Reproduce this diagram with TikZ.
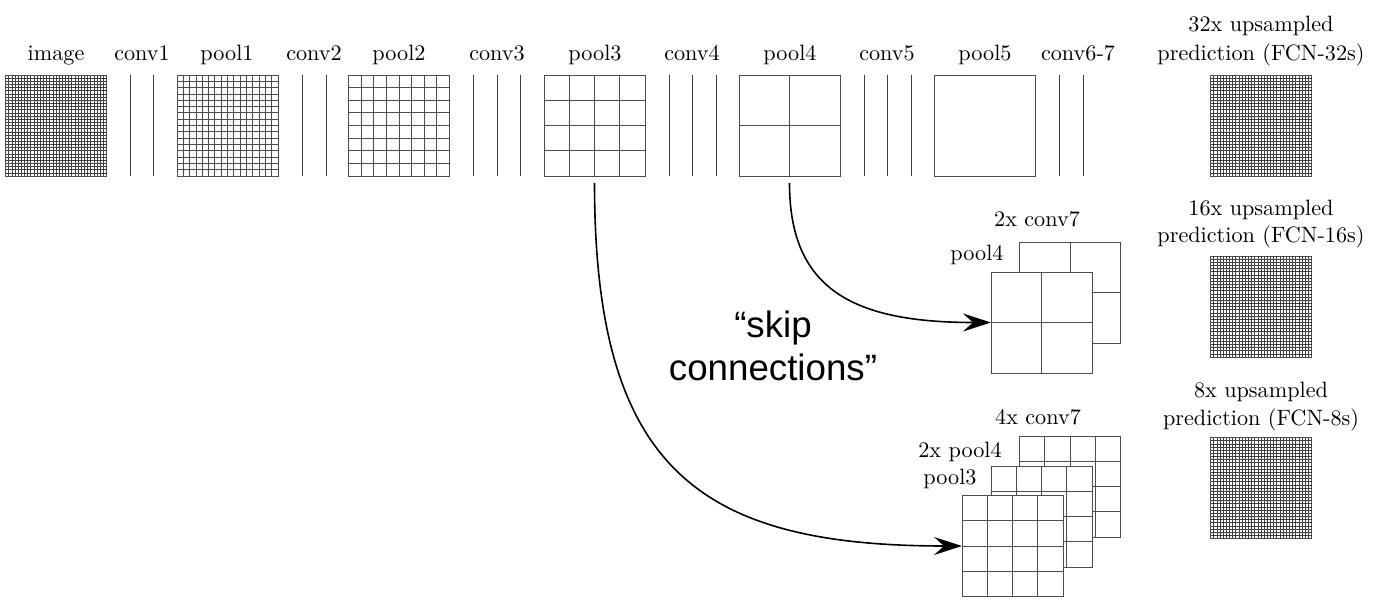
\documentclass[tikz,border=0pt]{standalone}
\usepackage{fontspec}
\setmainfont{lmroman10-regular}[Extension=.otf]
\newfontfamily\arialf{Liberation Sans}
\usetikzlibrary{arrows.meta,calc}
\tikzset{
  box/.style={draw=black!70, line width=0.8pt, fill=white, minimum size=101pt, inner sep=0pt, outer sep=0pt},
  gl/.style={draw=black!70, line width=0.8pt},
  fgl/.style={draw=black!75, line width=0.6pt},
  convline/.style={draw=black!75, line width=0.8pt},
  lbl/.style={anchor=base, inner sep=0pt, font=\fontsize{22.2}{26}\selectfont},
  skiparrow/.style={line width=1.6pt, -{Stealth[length=28pt,width=18pt,inset=10pt]}},
}
\newcommand\gbox[5]{%
  \node[box] (#1) at (#2,#3) {};
  \pgfmathtruncatemacro\nm{#4-1}
  \foreach \i in {1,...,\nm}{
    \draw[#5] ($(#1.north west)!\i/#4!(#1.north east)$) -- ($(#1.south west)!\i/#4!(#1.south east)$);
    \draw[#5] ($(#1.north west)!\i/#4!(#1.south west)$) -- ($(#1.north east)!\i/#4!(#1.south east)$);
  }
}
\begin{document}
\begin{tikzpicture}[x=1pt,y=-1pt]
\useasboundingbox (0,0) rectangle (1376,604);
% top row
\gbox{image}{56}{125.5}{32}{fgl}
\gbox{pool1}{227.5}{125.5}{16}{gl}
\gbox{pool2}{399}{125.5}{8}{gl}
\gbox{pool3}{594.5}{125.5}{4}{gl}
\gbox{pool4}{789.5}{125.5}{2}{gl}
\node[box] (pool5) at (984.5,125.5) {};
\gbox{pred32}{1261}{125.5}{32}{fgl}
\foreach \x in {130,153,302,326,473,497,520,669,692,716,864,887,911,1059,1083}
  \draw[convline] (\x,75) -- (\x,176);
% top labels
\node[lbl] (limage) at (56,61) {image};
\node[lbl] (lconv1) at (142,61) {conv1};
\node[lbl] (lpool1) at (227,61) {pool1};
\node[lbl] (lconv2) at (314,61) {conv2};
\node[lbl] (lpool2) at (399,61) {pool2};
\node[lbl] (lconv3) at (497,61) {conv3};
\node[lbl] (lpool3) at (595,61) {pool3};
\node[lbl] (lconv4) at (692,61) {conv4};
\node[lbl] (lpool4) at (790,61) {pool4};
\node[lbl] (lconv5) at (887,61) {conv5};
\node[lbl] (lpool5) at (985,61) {pool5};
\node[lbl] (lconv67) at (1078,61) {conv6-7};
% right predictions
\node[lbl] (l32a) at (1261,32) {32x upsampled};
\node[lbl] (l32b) at (1261,61) {prediction (FCN-32s)};
\node[lbl] (l16a) at (1261,215) {16x upsampled};
\node[lbl] (l16b) at (1261,243) {prediction (FCN-16s)};
\gbox{pred16}{1261}{306.5}{32}{fgl}
\node[lbl] (l8a) at (1261,397) {8x upsampled};
\node[lbl] (l8b) at (1261,425) {prediction (FCN-8s)};
\gbox{pred8}{1261}{488}{32}{fgl}
% middle stack
\gbox{mconv7}{1070}{292.5}{2}{gl}
\gbox{mpool4}{1041.5}{322.5}{2}{gl}
\node[lbl] (lmconv7) at (1037,227) {2x conv7};
\node[lbl] (lmpool4) at (977,261) {pool4};
% bottom stack
\gbox{bconv7}{1070}{486.5}{4}{gl}
\gbox{bpool4}{1041.5}{516.5}{4}{gl}
\gbox{bpool3}{1012.5}{546}{4}{gl}
\node[lbl] (lbconv7) at (1038,424) {4x conv7};
\node[lbl] (lbpool4) at (960,457) {2x pool4};
\node[lbl] (lbpool3) at (950,484) {pool3};
% skip connections
\draw[skiparrow] ([yshift=-7pt]pool4.south) .. controls +(0,105) and +(-140,0) .. (mpool4.west);
\draw[skiparrow] ([yshift=-7pt]pool3.south) .. controls +(0,287) and +(-262,0) .. (bpool3.west);
\node[anchor=base, inner sep=0pt, font=\arialf\fontsize{36.7}{40}\selectfont] (skip1) at (773,337) {“skip};
\node[anchor=base, inner sep=0pt, font=\arialf\fontsize{36.7}{40}\selectfont] (skip2) at (773,380) {connections”};
\end{tikzpicture}
\end{document}
